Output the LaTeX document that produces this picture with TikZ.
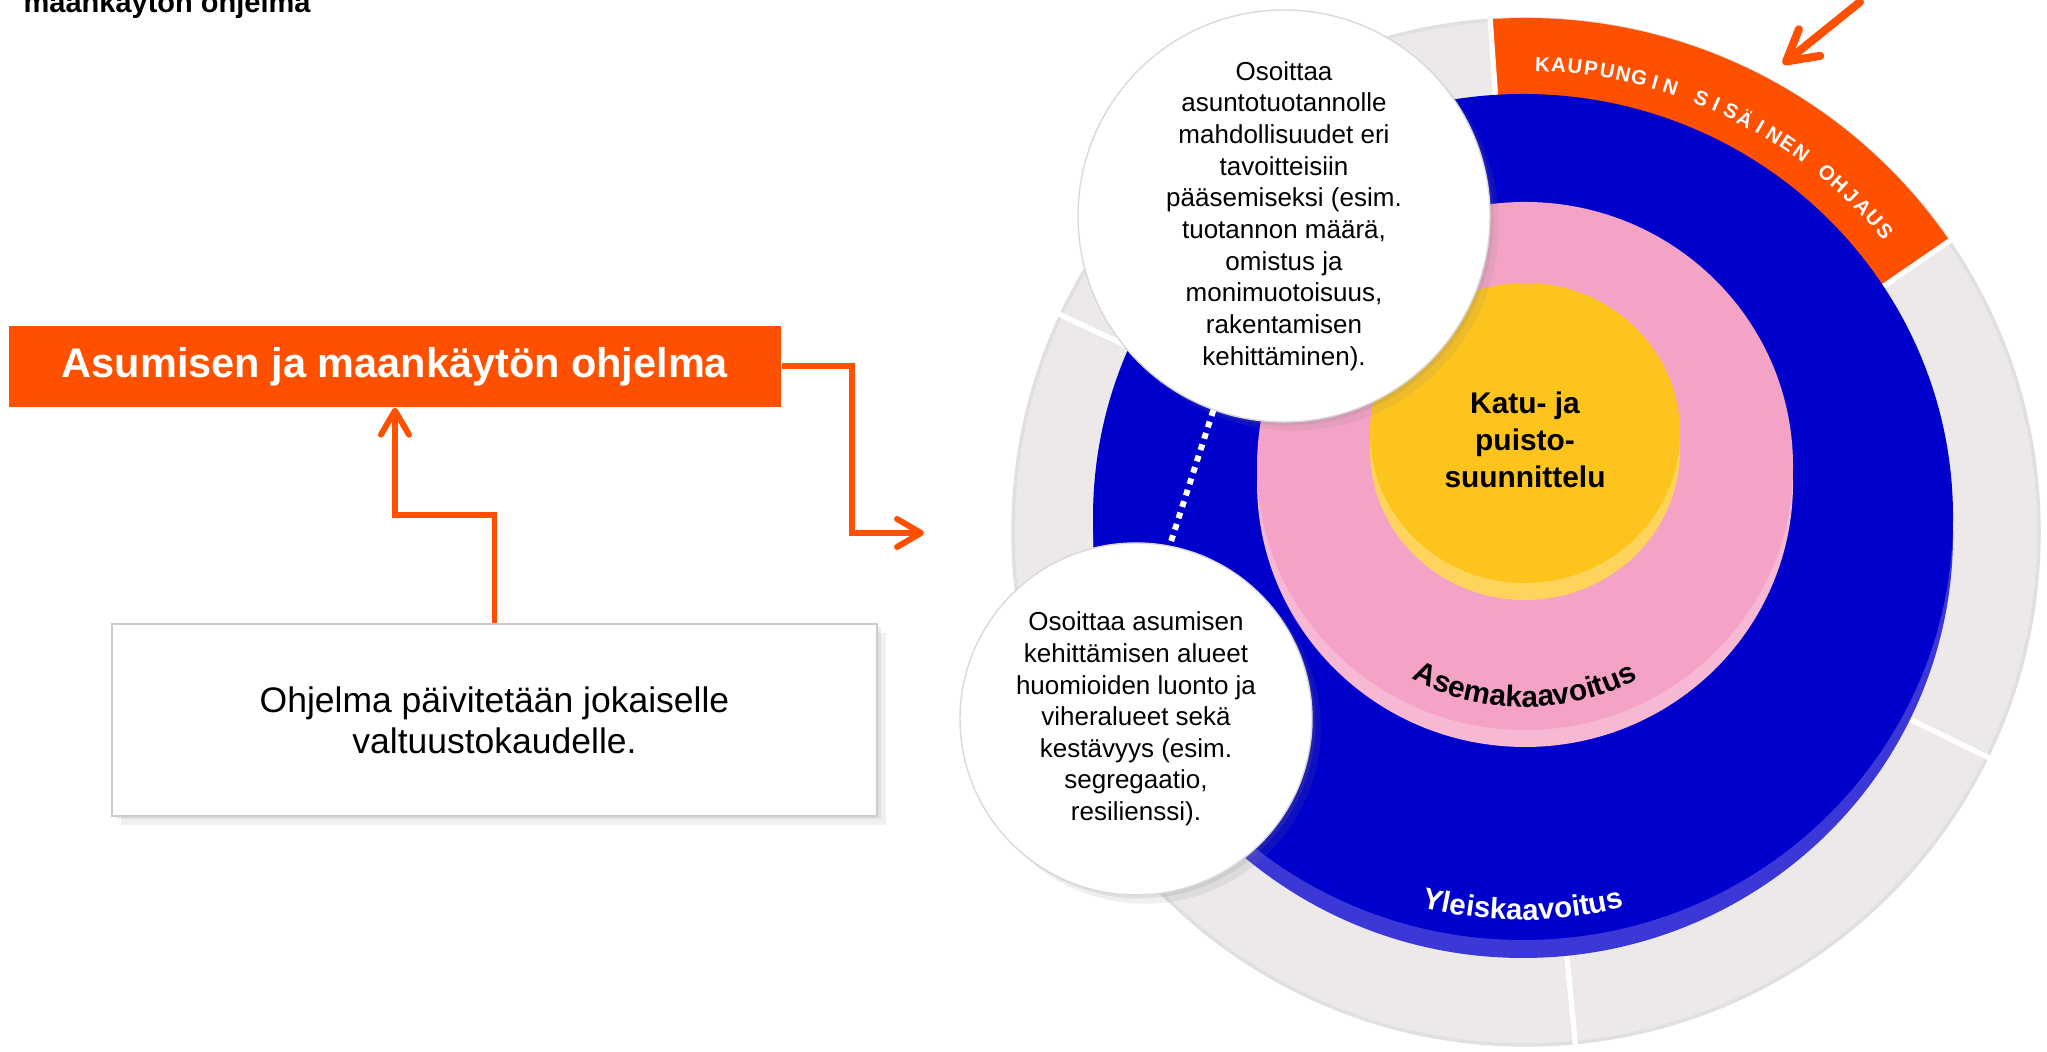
\documentclass[tikz,border=0pt]{standalone}
\usepackage{fontspec}
\setmainfont{Liberation Sans}
\usepackage{xcolor}
\usepackage{tikz}
\definecolor{hkiorange}{RGB}{255,80,0}
\definecolor{hkiblue}{RGB}{0,0,204}
\definecolor{hkiblueedge}{RGB}{60,55,215}
\definecolor{hkipink}{RGB}{244,163,198}
\definecolor{hkipinkedge}{RGB}{247,184,212}
\definecolor{hkiyellow}{RGB}{254,196,30}
\definecolor{hkiyellowedge}{RGB}{255,212,92}
\definecolor{ringgray}{RGB}{236,233,232}
\usetikzlibrary{positioning,calc,arrows.meta,shadows,decorations.text}

\begin{document}
\begin{tikzpicture}[
    conn/.style={draw=hkiorange, line width=1.7pt, -{Straight Barb[length=2.4mm,width=2.8mm,round]}},
    softshadow/.style={drop shadow={shadow xshift=1pt, shadow yshift=-1pt, opacity=0.15},
        drop shadow={shadow xshift=2.5pt, shadow yshift=-2.5pt, opacity=0.12}},
    bubble/.style={circle, fill=white, draw=black!15, line width=0.4pt, inner sep=0pt, align=center,
        font=\fontsize{7.4}{9}\selectfont, softshadow},
    divider/.style={draw=white, line width=1.5pt}
]
    \useasboundingbox (0,0) rectangle (20.47,10.52);
    \node[anchor=base west, inner sep=0pt, font=\bfseries\fontsize{8.25}{10}\selectfont] (title) at (0.23,10.39) {maankäytön ohjelma};

    \coordinate (ringc) at (15.26,5.20);
    \coordinate (bluec) at (15.23,5.35);
    \coordinate (pinkc) at (15.25,5.86);
    \coordinate (yelc) at (15.25,6.19);

    \fill[ringgray, draw=black!12, line width=1pt] (ringc) circle (5.13);
    \fill[hkiorange] (ringc) -- ($(ringc)+(34.5:5.14)$) arc[start angle=34.5, end angle=94, radius=5.14] -- cycle;
    \foreach \a in {155,94,34.5,-26,-84.5}
        \draw[divider] ($(ringc)+(\a:3.9)$) -- ($(ringc)+(\a:5.2)$);
    \foreach \ch [count=\i from 0] in {K,A,U,P,U,N,G,I,N,{},S,I,S,Ä,I,N,E,N,{},O,H,J,A,U,S}
        \node[text=white, inner sep=0pt, font=\bfseries\fontsize{5.8}{6}\selectfont, rotate={-2-2*\i}]
            at ($(ringc)+({88-2*\i}:4.68)$) {\ch};

    \fill[hkiblueedge] ([yshift=-0.18cm]bluec) ellipse[x radius=4.30, y radius=4.23];
    \fill[hkiblue] (bluec) ellipse[x radius=4.30, y radius=4.23];
    \fill[hkipinkedge] ([yshift=-0.17cm]pinkc) ellipse[x radius=2.68, y radius=2.64];
    \fill[hkipink] (pinkc) ellipse[x radius=2.68, y radius=2.64];
    \fill[hkiyellowedge] ([yshift=-0.17cm]yelc) ellipse[x radius=1.55, y radius=1.50];
    \fill[hkiyellow] (yelc) ellipse[x radius=1.55, y radius=1.50];

    \node[font=\bfseries\fontsize{8.5}{10.5}\selectfont, align=center] (katu) at (15.25,6.12) {Katu- ja\\puisto-\\suunnittelu};
    \path[decorate, decoration={text along path, text align=center,
        text={|\bfseries\fontsize{8.5}{10}\selectfont|Asemakaavoitus}}]
        ($(pinkc)+(225:2.41)$) arc[start angle=225, end angle=315, radius=2.41];
    \path[decorate, decoration={text along path, text align=center,
        text={|\color{white}\bfseries\fontsize{8.4}{10}\selectfont|Yleiskaavoitus}}]
        ($(bluec)+(225:4.03)$) arc[start angle=225, end angle=315, radius=4.03];

    \node[bubble, minimum size=4.12cm] (up) at (12.84,8.36) {Osoittaa\\asuntotuotannolle\\mahdollisuudet eri\\tavoitteisiin\\pääsemiseksi (esim.\\tuotannon määrä,\\omistus ja\\monimuotoisuus,\\rakentamisen\\kehittäminen).};
    \node[bubble, minimum size=3.52cm] (low) at (11.36,3.33) {Osoittaa asumisen\\kehittämisen alueet\\huomioiden luonto ja\\viheralueet sekä\\kestävyys (esim.\\segregaatio,\\resilienssi).};
    \draw[white, line width=1.7pt, dash pattern=on 1.7pt off 1.7pt] (up.250) -- (low.79);

    \node[fill=hkiorange, text=white, font=\bfseries\fontsize{11.8}{14}\selectfont, minimum width=7.72cm, minimum height=0.81cm, inner sep=0pt] (prog) at (3.95,6.855) {Asumisen ja maankäytön ohjelma};
    \node[fill=white, draw=black!20, line width=0.4pt, minimum width=7.65cm, minimum height=1.92cm, align=center,
        font=\fontsize{10.1}{11.7}\selectfont, softshadow] (note) at (4.945,3.32) {Ohjelma päivitetään jokaiselle\\valtuustokaudelle.};
    \coordinate (ringin) at (9.24,5.19);
    \draw[conn] (note.north) |- ($(prog.south)!0.5!(note.north)$) -| (prog.south);
    \draw[conn] (prog.east) -- ++(0.7,0) |- (ringin);

    \coordinate (cityfrom) at (18.60,10.50);
    \coordinate (cityin) at (17.83,9.88);
    \draw[draw=hkiorange, line width=2.3pt, line cap=round, -{Straight Barb[length=3mm,width=3.4mm,round]}] (cityfrom) -- (cityin);
\end{tikzpicture}
\end{document}
